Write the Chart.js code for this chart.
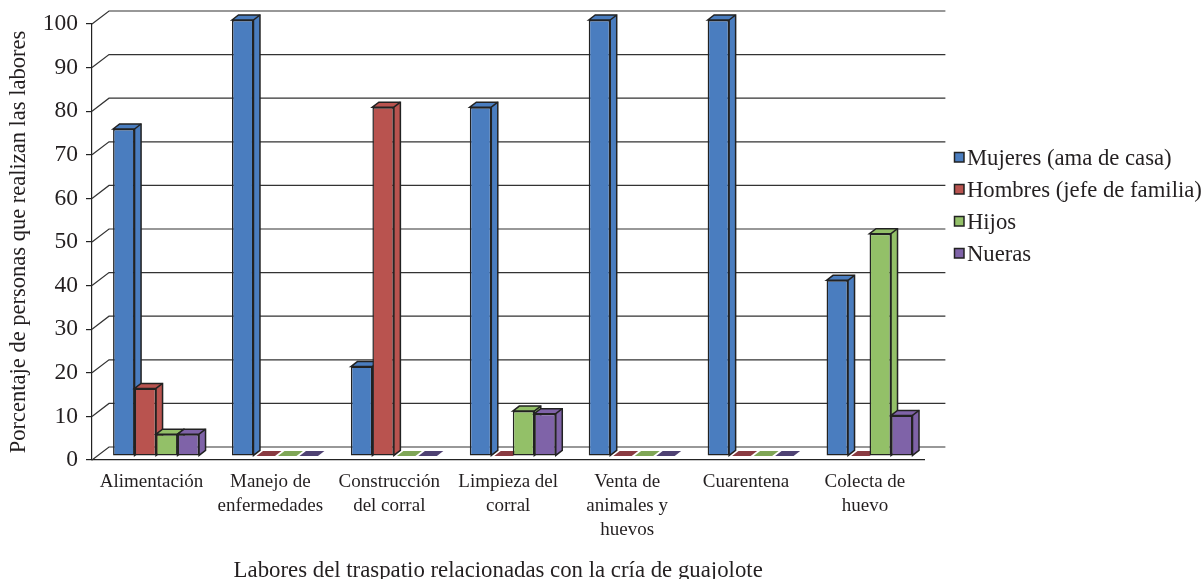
<!DOCTYPE html>
<html lang="es">
<head>
<meta charset="utf-8">
<title>Labores del traspatio</title>
<script src="https://cdn.jsdelivr.net/npm/chart.js@4"></script>
<style>
  html, body { margin: 0; background: #fff; }
  canvas { display: block; }
</style>
</head>
<body>
<canvas id="chart" width="1203" height="579"></canvas>
<script>
'use strict';

const FONT = '"Liberation Serif", serif';
const INK = '#231f20';

const categories = [
  'Alimentación',
  ['Manejo de', 'enfermedades'],
  ['Construcción', 'del corral'],
  ['Limpieza del', 'corral'],
  ['Venta de', 'animales y', 'huevos'],
  'Cuarentena',
  ['Colecta de', 'huevo']
];
const mujeres = [75, 100, 20.5, 80, 100, 100, 40.3];
const hombres = [15.5, 0, 80, 0, 0, 0, 0];
const hijos = [5, 0, 0, 10.3, 0, 0, 51];
const nueras = [5, 0, 0, 9.7, 0, 0, 9.3];

const xTitle = 'Labores del traspatio relacionadas con la cría de guajolote';
const yTitle = 'Porcentaje de personas que realizan las labores';

// back wall and bar depth, in px
const WALL = { dx: 17, dy: -13, over: 21 };
const BAR = { dx: 6.5, dy: -5, shiftX: 4.6, shiftY: -4 };
const LINE = 1.5;

const flatColors = ['#4a7dbf', '#8a3b42', '#7fa656', '#4f4273'];

function drawDepth(chart, index) {
  const { ctx } = chart;
  const ds = chart.data.datasets[index];
  chart.getDatasetMeta(index).data.forEach((bar, i) => {
    const { x, y, base, width } = bar.getProps(['x', 'y', 'base', 'width'], true);
    const l = x - width / 2;
    const r = x + width / 2;
    if (ds.data[i] === 0) {
      // empty bar: only the flat floor tile shows
      ctx.fillStyle = flatColors[index];
      ctx.beginPath();
      ctx.moveTo(l + 3, base);
      ctx.lineTo(r, base);
      ctx.lineTo(r + BAR.dx, base + BAR.dy);
      ctx.lineTo(l + 3 + BAR.dx, base + BAR.dy);
      ctx.closePath();
      ctx.fill();
      return;
    }
    ctx.fillStyle = ds.backgroundColor;
    ctx.strokeStyle = ds.borderColor;
    ctx.lineWidth = LINE;
    ctx.beginPath();
    ctx.moveTo(l, y);
    ctx.lineTo(l + BAR.dx, y + BAR.dy);
    ctx.lineTo(r + BAR.dx, y + BAR.dy);
    ctx.lineTo(r + BAR.dx, base + BAR.dy);
    ctx.lineTo(r, base);
    ctx.lineTo(r, y);
    ctx.closePath();
    ctx.fill();
    ctx.stroke();
    ctx.beginPath();
    ctx.moveTo(r, y);
    ctx.lineTo(r + BAR.dx, y + BAR.dy);
    ctx.stroke();
  });
}

const depth3d = {
  id: 'depth3d',
  beforeDatasetsDraw(chart) {
    const { ctx, chartArea: area, scales } = chart;
    ctx.save();
    ctx.strokeStyle = '#333';
    ctx.lineWidth = 1.2;
    scales.y.ticks.forEach((t) => {
      const y = scales.y.getPixelForValue(t.value);
      ctx.beginPath();
      ctx.moveTo(area.left, y);
      ctx.lineTo(area.left + WALL.dx, y + WALL.dy);
      ctx.lineTo(area.right + WALL.over, y + WALL.dy);
      ctx.stroke();
    });
    ctx.restore();
  },
  // the left bar of a group has to be painted first or its side covers its neighbour
  beforeDatasetDraw() {
    return false;
  },
  afterDatasetsDraw(chart) {
    const { ctx } = chart;
    ctx.save();
    ctx.translate(BAR.shiftX, BAR.shiftY);
    chart.data.datasets.forEach((ds, i) => {
      chart.getDatasetMeta(i).controller.draw();
      drawDepth(chart, i);
    });
    ctx.restore();
  },
  afterLayout(chart) {
    // legend sits clear of the walls, not against the plot
    const lg = chart.legend;
    const w = lg.right - lg.left;
    const h = lg.bottom - lg.top;
    lg.left = 945.25;
    lg.right = lg.left + w;
    lg.top = 138.5;
    lg.bottom = lg.top + h;
  },
  afterDraw(chart) {
    // library puts the text too far from its box, so the swatches are painted here
    const { ctx, legend } = chart;
    legend.legendItems.forEach((item, i) => {
      ctx.fillStyle = item.fillStyle;
      ctx.strokeStyle = item.strokeStyle;
      ctx.lineWidth = LINE;
      ctx.beginPath();
      ctx.rect(954.5, 152.5 + i * 32, 9.5, 9.5);
      ctx.fill();
      ctx.stroke();
    });
  }
};

function series(label, data, color) {
  return {
    label, data,
    backgroundColor: color,
    borderColor: '#222',
    borderWidth: LINE,
    borderSkipped: false,
    clip: false
  };
}

new Chart(document.getElementById('chart').getContext('2d'), {
  type: 'bar',
  plugins: [depth3d],
  data: {
    labels: categories,
    datasets: [
      series('Mujeres (ama de casa)', mujeres, '#4a7dbf'),
      series('Hombres (jefe de familia)', hombres, '#b9534f'),
      series('Hijos', hijos, '#93c068'),
      series('Nueras', nueras, '#7f63a8')
    ]
  },
  options: {
    responsive: false,
    animation: false,
    categoryPercentage: 0.723,
    barPercentage: 1,
    layout: { padding: { top: 24, right: 12 } },
    plugins: {
      tooltip: { enabled: false },
      legend: {
        position: 'right',
        align: 'start',
        labels: {
          color: INK,
          font: { family: FONT, size: 22.7, lineHeight: 1 },
          usePointStyle: true,
          pointStyle: 'rect',
          boxWidth: 1,
          boxHeight: 0,
          padding: 9.3
        }
      }
    },
    scales: {
      x: {
        afterFit(scale) {
          scale.height = 119;
          const drawTitle = scale.drawTitle;
          scale.drawTitle = function () {
            this.ctx.save();
            this.ctx.translate(-10, 0);
            drawTitle.call(this);
            this.ctx.restore();
          };
        },
        grid: { display: false, drawTicks: false },
        border: { display: true, color: '#222', width: 1.2 },
        ticks: {
          color: INK,
          padding: 10,
          maxRotation: 0,
          autoSkip: false,
          font: { family: FONT, size: 19, lineHeight: 1.26 }
        },
        title: {
          display: true,
          text: xTitle,
          color: INK,
          padding: { top: 0, bottom: 0 },
          font: { family: FONT, size: 22.8, lineHeight: 0.7 }
        }
      },
      y: {
        min: 0,
        max: 100,
        afterFit(scale) { scale.width = 92; },
        grid: { drawOnChartArea: false, tickLength: 6, color: '#222', lineWidth: 1.2 },
        border: { display: true, color: '#222', width: 1.2 },
        ticks: {
          stepSize: 10,
          color: INK,
          padding: 8,
          font: { family: FONT, size: 23.5 }
        },
        title: {
          display: true,
          text: yTitle,
          color: INK,
          padding: { top: 6, bottom: 0 },
          font: { family: FONT, size: 22.5, lineHeight: 1.2 }
        }
      }
    }
  }
});
</script>
</body>
</html>
